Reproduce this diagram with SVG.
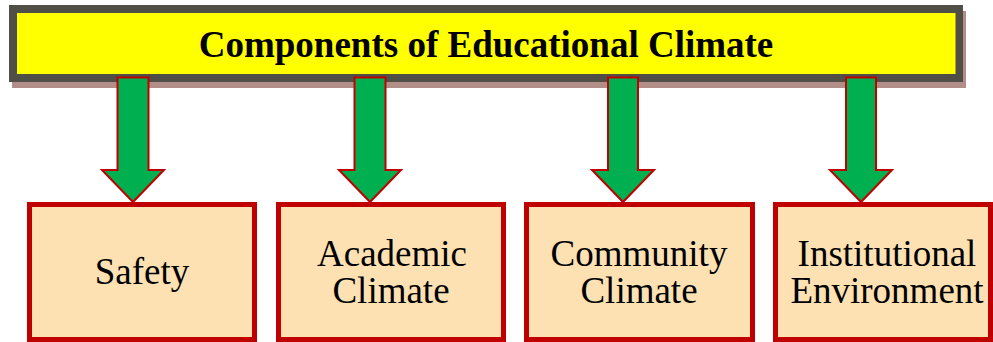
<svg xmlns="http://www.w3.org/2000/svg" width="993" height="342" viewBox="0 0 993 342">
<style>
.box{fill:#fde1b3;stroke:#c00000;stroke-width:5}
.arrow{fill:#00b050;stroke:#c00000;stroke-width:2;stroke-linejoin:miter}
.lbl{font-family:"Liberation Serif","Times New Roman",serif;font-size:37px;fill:#000;text-anchor:middle}
.title{font-family:"Liberation Serif","Times New Roman",serif;font-size:37px;font-weight:bold;fill:#000;text-anchor:middle}
</style>
<rect width="993" height="342" fill="#ffffff"/>
<g id="title">
<rect x="12" y="11" width="954" height="77" fill="#b28e88"/>
<rect x="9" y="5" width="954" height="77" fill="#4f4f47"/>
<rect x="17" y="13" width="938.5" height="61" fill="#ffff00"/>
<text class="title" x="486" y="57">Components of Educational Climate</text>
</g>
<g id="safety">
<rect class="box" x="29.5" y="204.5" width="225" height="135"/>
<text class="lbl" x="142" y="284">Safety</text>
</g>
<g id="academic">
<rect class="box" x="278.5" y="204.5" width="225" height="135"/>
<text class="lbl" x="392" y="266">Academic</text>
<text class="lbl" x="391" y="303">Climate</text>
</g>
<g id="community">
<rect class="box" x="526.5" y="204.5" width="226" height="135"/>
<text class="lbl" x="639" y="266">Community</text>
<text class="lbl" x="639" y="303">Climate</text>
</g>
<g id="institutional">
<rect class="box" x="775.5" y="204.5" width="215" height="135"/>
<text class="lbl" x="887" y="266">Institutional</text>
<text class="lbl" x="887" y="303">Environment</text>
</g>
<g id="connectors">
<polygon class="arrow" points="117.5,77.5 148.5,77.5 148.5,170 164,170 133,202 102,170 117.5,170"/>
<polygon class="arrow" points="354.5,77.5 385.5,77.5 385.5,170 401,170 370,202 339,170 354.5,170"/>
<polygon class="arrow" points="608,77.5 638,77.5 638,170 654,170 623,202 592,170 608,170"/>
<polygon class="arrow" points="846,77.5 876,77.5 876,170 892,170 861,202 830,170 846,170"/>
</g>
</svg>
